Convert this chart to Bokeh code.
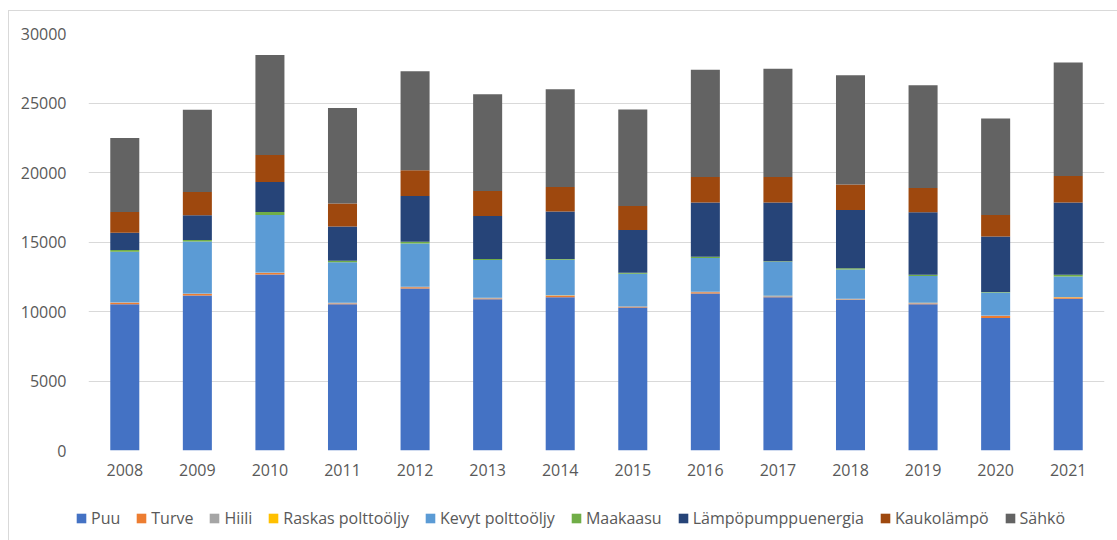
from bokeh.plotting import figure
from bokeh.layouts import column
from bokeh.models import ColumnDataSource, Legend, LegendItem, Range1d
from bokeh.embed import file_html
from bokeh.resources import INLINE

# Heating energy by source, per year
years = ["2008", "2009", "2010", "2011", "2012", "2013", "2014",
         "2015", "2016", "2017", "2018", "2019", "2020", "2021"]

puu = [10530, 11150, 12660, 10530, 11650, 10890, 11030,
       10290, 11290, 11030, 10820, 10530, 9540, 10910]
turve = [100, 110, 110, 40, 100, 50, 100, 40, 100, 40, 40, 40, 140, 90]
hiili = [30, 30, 30, 60, 30, 50, 30, 50, 30, 50, 50, 50, 30, 30]
raskas = [5, 5, 5, 5, 5, 5, 5, 5, 5, 5, 5, 5, 5, 5]
kevyt = [3635, 3735, 4135, 2915, 3115, 2705, 2555,
         2325, 2415, 2455, 2105, 1925, 1655, 1485]
maakaasu = [120, 120, 215, 95, 120, 70, 50, 70, 95, 30, 95, 95, 30, 120]
lampo = [1250, 1780, 2160, 2470, 3290, 3100, 3430,
         3080, 3910, 4240, 4180, 4490, 4000, 5210]
kauko = [1490, 1660, 1945, 1660, 1845, 1800, 1755,
         1730, 1830, 1830, 1850, 1755, 1540, 1900]
sahko = [5330, 5930, 7200, 6870, 7130, 6960, 7030,
         6940, 7710, 7780, 7850, 7390, 6940, 8160]

names = ["Puu", "Turve", "Hiili", "Raskas polttoöljy", "Kevyt polttoöljy",
         "Maakaasu", "Lämpöpumppuenergia", "Kaukolämpö", "Sähkö"]
values = [puu, turve, hiili, raskas, kevyt, maakaasu, lampo, kauko, sahko]
colors = ["#4472C4", "#ED7D31", "#A5A5A5", "#FFC000", "#5B9BD5",
          "#70AD47", "#264478", "#9E480E", "#636363"]

keys = ["s%d" % i for i in range(len(names))]
data = {"year": years}
for k, v in zip(keys, values):
    data[k] = v
source = ColumnDataSource(data)

FONT = "Open Sans"
TXT = "#595959"

# Main chart: stacked columns
p = figure(x_range=years, y_range=Range1d(0, 30000),
           width=1109, height=485,
           output_backend="svg", toolbar_location=None,
           min_border_left=79, min_border_right=14,
           min_border_top=22, min_border_bottom=46)
p.outline_line_color = None

p.vbar_stack(keys, x="year", width=0.4, color=colors,
             line_color=None, source=source)

p.ygrid.grid_line_color = "#d9d9d9"
p.ygrid.grid_line_width = 1
p.xgrid.grid_line_color = None
p.yaxis.ticker = [0, 5000, 10000, 15000, 20000, 25000, 30000]

for ax in (p.xaxis[0], p.yaxis[0]):
    ax.axis_line_color = None
    ax.major_tick_line_color = None
    ax.minor_tick_line_color = None
    ax.major_tick_out = 0
    ax.major_tick_in = 0
    ax.major_label_text_font = FONT
    ax.major_label_text_font_size = "16px"
    ax.major_label_text_color = TXT
p.yaxis.major_label_standoff = 22
p.xaxis.major_label_standoff = 13

# Legend strip under the chart
lg = figure(x_range=years, y_range=Range1d(0, 1), width=1109, height=44,
            output_backend="svg", toolbar_location=None,
            x_axis_location=None, y_axis_location=None,
            min_border_left=0, min_border_right=0,
            min_border_top=0, min_border_bottom=0)
lg.frame_align = False
lg.outline_line_color = None
lg.grid.visible = False
keys_r = lg.vbar_stack(keys, x="year", width=0.4, color=colors,
                       line_color=None, source=source)
for r in keys_r:
    r.visible = False

legend = Legend(
    items=[LegendItem(label=n, renderers=[r]) for n, r in zip(names, keys_r)],
    orientation="horizontal", location=(66, 11),
    glyph_width=12, glyph_height=12, label_standoff=4, spacing=15,
    padding=0, margin=0, border_line_color=None, background_fill_alpha=0,
    label_text_font=FONT, label_text_font_size="16px", label_text_color=TXT,
    label_height=18,
)
lg.add_layout(legend)

page = column(p, lg, spacing=0, margin=(10, 0, 0, 8),
              styles={"border-left": "1px solid #d9d9d9",
                      "border-top": "1px solid #d9d9d9"})

open("out.html", "w").write(file_html(page, INLINE))
